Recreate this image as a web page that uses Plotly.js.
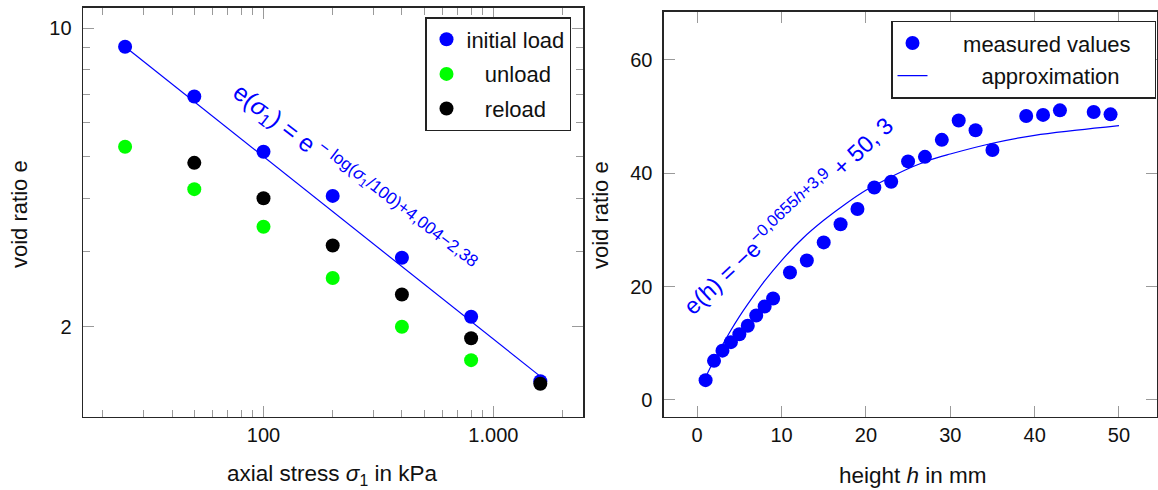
<!DOCTYPE html>
<html>
<head>
<meta charset="utf-8">
<script src="https://cdn.plot.ly/plotly-3.0.1.min.js"></script>
<style>html,body{margin:0;padding:0;background:#fff;}#chart{width:1158px;height:490px;}</style>
</head>
<body>
<div id="chart"></div>
<script>
// ---- Left chart: oedometer test (log-log) ----
const sigma = [25, 50, 100, 200, 400, 800, 1600];
const initialLoad = [9.05, 6.92, 5.14, 4.05, 2.90, 2.11, 1.49];
const fitLine = [9.05, 6.73, 5.00, 3.72, 2.76, 2.05, 1.53];
const unloadSigma = [25, 50, 100, 200, 400, 800];
const unload = [5.28, 4.20, 3.43, 2.60, 2.00, 1.67];
const reloadSigma = [50, 100, 200, 400, 800, 1600];
const reload = [4.84, 4.00, 3.10, 2.38, 1.88, 1.47];
const xTickVals = [100, 1000];
const xTickText = ['100', '1.000'];
const xMinorVals = [20, 30, 40, 50, 60, 70, 80, 90, 200, 300, 400, 500, 600, 700, 800, 900, 2000];
const yTickVals = [2, 10];
const yTickText = ['2', '10'];
const yMinorVals = [3, 4, 5, 6, 7, 8, 9];

// ---- Right chart: void ratio over height ----
const height = [1, 2, 3, 4, 5, 6, 7, 8, 9, 11, 13, 15, 17, 19, 21, 23, 25, 27, 29, 31, 33, 35, 39, 41, 43, 47, 49];
const voidRatio = [3.5, 6.9, 8.7, 10.2, 11.6, 13.1, 14.9, 16.5, 17.9, 22.5, 24.6, 27.8, 31.0, 33.7, 37.5, 38.5, 42.1, 42.9, 45.9, 49.3, 47.6, 44.1, 50.1, 50.3, 51.1, 50.8, 50.4];
const approxH = [1, 2, 3, 4, 5, 6, 8, 10, 12.5, 15, 17.5, 20, 22.5, 25, 27.5, 30, 35, 40, 45, 50];
const approxE = [4.0, 7.0, 9.7, 12.3, 14.7, 16.9, 21.0, 24.6, 28.5, 31.7, 34.5, 37.0, 39.0, 40.8, 42.3, 43.4, 45.3, 46.7, 47.6, 48.4];

const FONT = 'Liberation Sans, Arial, sans-serif';
const BLUE = '#0000ff';
const NB = '\u00a0';

const traces = [
  {x: sigma, y: fitLine, xaxis: 'x', yaxis: 'y', mode: 'lines', line: {color: BLUE, width: 1.2}, showlegend: false, hoverinfo: 'skip'},
  {x: sigma, y: initialLoad, xaxis: 'x', yaxis: 'y', mode: 'markers', name: 'initial load', legendgroup: 'a', legend: 'legend',
   marker: {color: BLUE, size: 14}},
  {x: unloadSigma, y: unload, xaxis: 'x', yaxis: 'y', mode: 'markers', name: NB+NB+NB+'unload', legendgroup: 'b', legend: 'legend',
   marker: {color: '#00ff00', size: 14}},
  {x: reloadSigma, y: reload, xaxis: 'x', yaxis: 'y', mode: 'markers', name: NB+NB+NB+'reload', legendgroup: 'c', legend: 'legend',
   marker: {color: '#000000', size: 14}},
  {x: height, y: voidRatio, xaxis: 'x2', yaxis: 'y2', mode: 'markers', name: NB.repeat(5)+'measured values'+NB.repeat(3), legendgroup: 'd', legend: 'legend2',
   marker: {color: BLUE, size: 14}},
  {x: approxH, y: approxE, xaxis: 'x2', yaxis: 'y2', mode: 'lines', name: NB.repeat(8)+'approximation', legendgroup: 'e', legend: 'legend2',
   line: {color: BLUE, width: 1.2, shape: 'spline'}}
];

const axCommon = {
  ticks: 'inside', ticklen: 11, tickcolor: '#9a9a9a', tickwidth: 1,
  showline: true, linecolor: '#262626', linewidth: 1.5, mirror: 'ticks',
  showgrid: false, zeroline: false,
  tickfont: {family: FONT, size: 20, color: '#111'}
};

const layout = {
  width: 1158, height: 490,
  margin: {l: 0, r: 0, t: 0, b: 0},
  paper_bgcolor: '#fff', plot_bgcolor: '#fff',
  font: {family: FONT, color: '#111'},
  xaxis: Object.assign({}, axCommon, {
    type: 'log', range: [1.215, 3.39], domain: [0.0717, 0.5035], anchor: 'y',
    tickmode: 'array', tickvals: xTickVals, ticktext: xTickText,
    minor: {tickmode: 'array', tickvals: xMinorVals, ticks: 'inside', ticklen: 7, tickcolor: '#9a9a9a', tickwidth: 1}
  }),
  yaxis: Object.assign({}, axCommon, {
    type: 'log', range: [0.0896, 1.0475], domain: [0.149, 0.9837], anchor: 'x',
    tickmode: 'array', tickvals: yTickVals, ticktext: yTickText, ticklabelstandoff: 6,
    minor: {tickmode: 'array', tickvals: yMinorVals, ticks: 'inside', ticklen: 7, tickcolor: '#9a9a9a', tickwidth: 1}
  }),
  xaxis2: Object.assign({}, axCommon, {
    range: [-3.93, 54.5], domain: [0.5734, 0.9991], anchor: 'y2', tick0: 0, dtick: 10
  }),
  yaxis2: Object.assign({}, axCommon, {
    range: [-2.95, 68.5], domain: [0.1496, 0.976], anchor: 'x2', tick0: 0, dtick: 20, ticklabelstandoff: 6
  }),
  legend: {
    x: 425/1158, xanchor: 'left', y: (490-17)/490, yanchor: 'top',
    bgcolor: '#fff', bordercolor: '#222', borderwidth: 1.5,
    font: {family: FONT, size: 22, color: '#111'},
    traceorder: 'grouped', tracegroupgap: 3
  },
  legend2: {
    x: 891/1158, xanchor: 'left', y: (490-20.7)/490, yanchor: 'top',
    bgcolor: '#fff', bordercolor: '#222', borderwidth: 1.5,
    font: {family: FONT, size: 22, color: '#111'},
    traceorder: 'grouped', tracegroupgap: 1
  },
  annotations: [
    {xref: 'x', yref: 'y', x: 2.392, y: 0.648, showarrow: false, textangle: 37.5,
     text: 'e(<i>σ</i><sub>1</sub>) = e<sup> − log(<i>σ</i><sub>1</sub>/100)+4,004−2,38</sup>',
     font: {family: FONT, size: 24.5, color: BLUE}},
    {xref: 'x2', yref: 'y2', x: 10.6, y: 32.7, showarrow: false, textangle: -43,
     text: 'e(h) = −e<sup>−0,0655<i>h</i>+3,9</sup> + 50, 3',
     font: {family: FONT, size: 23.5, color: BLUE}},
    {xref: 'paper', yref: 'paper', x: 332/1158, y: 15/490, showarrow: false, xanchor: 'center', yanchor: 'middle',
     text: 'axial stress <i>σ</i><sub>1</sub> in kPa', font: {family: FONT, size: 22.5, color: '#111'}},
    {xref: 'paper', yref: 'paper', x: 19/1158, y: (490-214)/490, showarrow: false, xanchor: 'center', yanchor: 'middle', textangle: -90,
     text: 'void ratio e', font: {family: FONT, size: 22, color: '#111'}},
    {xref: 'paper', yref: 'paper', x: 913/1158, y: 15/490, showarrow: false, xanchor: 'center', yanchor: 'middle',
     text: 'height <i>h</i> in mm', font: {family: FONT, size: 22.5, color: '#111'}},
    {xref: 'paper', yref: 'paper', x: 600/1158, y: (490-215)/490, showarrow: false, xanchor: 'center', yanchor: 'middle', textangle: -90,
     text: 'void ratio e', font: {family: FONT, size: 22, color: '#111'}}
  ]
};

Plotly.newPlot('chart', traces, layout, {displayModeBar: false, staticPlot: true});
</script>
</body>
</html>
